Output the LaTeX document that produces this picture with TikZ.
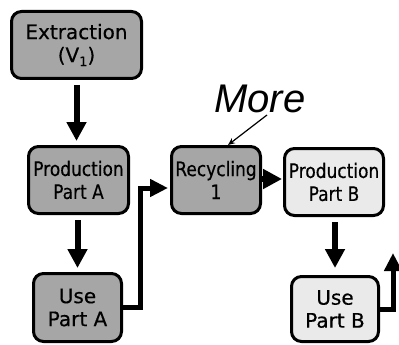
\documentclass[tikz,border=0pt]{standalone}
\usepackage{fontspec}
\setmainfont{DejaVu Sans}[FakeBold=0.4]
\newfontfamily\narrowfont{DejaVu Sans}[FakeStretch=0.85, FakeBold=0.4]
\newfontfamily\notefont{Liberation Sans}
\usetikzlibrary{arrows.meta}
\definecolor{darkfill}{RGB}{166,166,166}
\definecolor{lightfill}{RGB}{234,234,234}
\newcommand{\lowindex}[1]{\raisebox{-4pt}{\fontsize{13}{13}\selectfont #1}}
\tikzset{
  stage/.style={draw=black, line width=3pt, rounded corners=10pt, align=center,
    inner sep=0pt, font=\fontsize{20}{23}\selectfont},
  stageA/.style={stage, fill=darkfill},
  stageB/.style={stage, fill=lightfill},
  narrow/.style={font=\narrowfont\fontsize{20}{23}\selectfont},
  flow/.style={line width=6pt, -{Triangle[length=19pt,width=19pt]}},
  loopflow/.style={line width=5pt, -{Triangle[length=18pt,width=17pt]}},
  note/.style={font=\notefont\itshape\fontsize{40}{44}\selectfont, inner sep=0pt},
  pointer/.style={line width=1.2pt, -{Stealth[length=7pt,width=6pt]}}
}
\begin{document}
\begin{tikzpicture}[x=1pt, y=-1pt]
\useasboundingbox (0,0) rectangle (399,345);

% material stages
\node[stageA, minimum width=130pt, minimum height=67pt] (ext) at (76.5,45)
  {Extraction\\(V\lowindex{1})};
\node[stageA, narrow, minimum width=100pt, minimum height=67pt] (prodA) at (78.5,180)
  {Production\\Part A};
\node[stageA, minimum width=88pt, minimum height=68pt] (useA) at (77.5,307.5)
  {Use\\Part A};
\node[stageA, narrow, minimum width=89pt, minimum height=67pt] (rec) at (216,180)
  {Recycling\\1};
\node[stageB, narrow, minimum width=99pt, minimum height=67pt] (prodB) at (334,182)
  {Production\\Part B};
\node[stageB, minimum width=87pt, minimum height=65pt] (useB) at (335,309)
  {Use\\Part B};

% annotation
\node[note, anchor=base] (more) at (260,112) {More};
\draw[pointer] ([shift={(7pt,-3pt)}]more.base) -- ([xshift=12pt]rec.north);

% flows between stages
\draw[flow, shorten <=5pt, shorten >=4pt] (ext.south) -- (ext.south |- prodA.north);
\draw[flow, shorten <=5pt, shorten >=4pt] (prodA.south -| useA.north) -- (useA.north);
\coordinate (entry) at ([yshift=-8pt]rec.west);
\draw[loopflow, shorten >=2pt] (useA.east) -| ([xshift=-30pt]entry) -- (entry);
\draw[flow, shorten >=1pt] ([yshift=1pt]rec.east) -- ([yshift=1pt]rec.east -| prodB.west);
\draw[flow, shorten <=5pt, shorten >=7pt] (prodB.south -| useB.north) -- (useB.north);
\coordinate (exitB) at (393,253);
\draw[loopflow] (useB.east) -| (exitB);
\end{tikzpicture}
\end{document}
